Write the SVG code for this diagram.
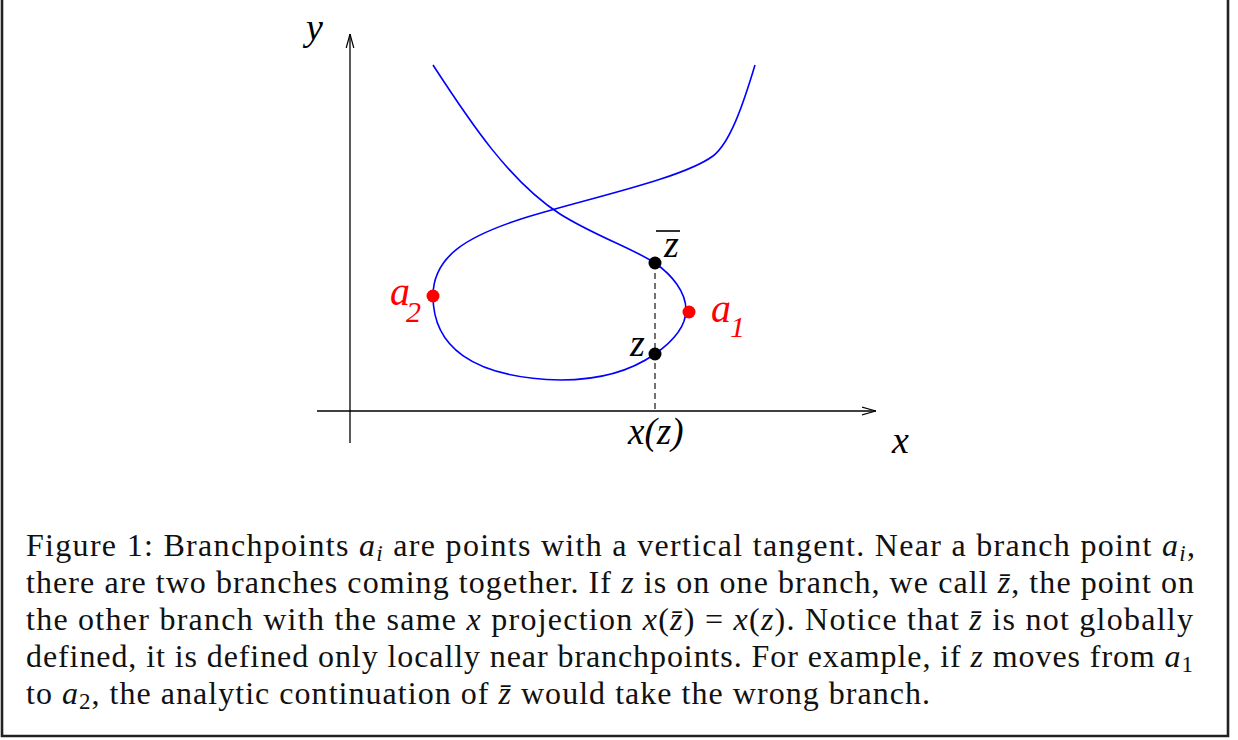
<svg xmlns="http://www.w3.org/2000/svg" width="1238" height="740" viewBox="0 0 1238 740">
<style>
.lbl{font-family:'Liberation Serif','DejaVu Serif',serif;font-style:italic;fill:#000;}
.red{fill:#ff0000;}
.cap{font-family:'Liberation Serif','DejaVu Serif',serif;font-size:32px;fill:#111;}
.m{font-style:italic;}
.axis{stroke:#000;stroke-width:1.3;fill:none;}
.curve{stroke:#0000ff;stroke-width:1.6;fill:none;}
.dot{fill:#000;}
.rdot{fill:#ff0000;}
</style>
<defs>
<marker id="arr" viewBox="0 0 14 10" refX="14" refY="5" markerWidth="14" markerHeight="10" markerUnits="userSpaceOnUse" orient="auto">
<path d="M0,1.2 L14,5 L0,8.8" fill="none" stroke="#000" stroke-width="1.2"/>
</marker>
</defs>
<rect x="0" y="0" width="1238" height="740" fill="#fff"/>
<path d="M2,0 V736 H1228 V0" fill="none" stroke="#222" stroke-width="2.6"/>

<g id="connectors">
<line id="x-axis" class="axis" x1="317" y1="411" x2="876" y2="411" marker-end="url(#arr)"/>
<line id="y-axis" class="axis" x1="350" y1="443" x2="350" y2="34" marker-end="url(#arr)"/>
<path id="curve" class="curve" d="M433,65 C470,122 510,182 560,214 C595,236 630,247 655,263 C672,275 686,292 686,310 C686,328 672,342 655,354 C635,368 605,380 561,380 C470,378 433,345 433,296 C433,255 470,236 518,220 C580,200 680,180 713,156 C730,143 743,105 755,65"/>
<line id="projection" x1="655" y1="263" x2="655" y2="411" stroke="#000" stroke-width="1.1" stroke-dasharray="6,4"/>
</g>

<g id="axis-labels">
<text class="lbl" x="306" y="40" font-size="38">y</text>
<text class="lbl" x="892" y="453" font-size="38">x</text>
<text class="lbl" x="628" y="444" font-size="37">x(z)</text>
</g>

<g id="node-zbar">
<circle class="dot" cx="655" cy="263" r="6.5"/>
<text class="lbl" x="664" y="257" font-size="38">z</text>
<line x1="656" y1="231" x2="680" y2="231" stroke="#000" stroke-width="1.6"/>
</g>
<g id="node-z">
<circle class="dot" cx="655" cy="354" r="6.5"/>
<text class="lbl" x="630" y="356" font-size="38">z</text>
</g>
<g id="node-a2">
<circle class="rdot" cx="433" cy="296" r="6.5"/>
<text class="lbl red" x="390" y="305" font-size="40">a</text>
<text class="lbl red" x="406" y="322" font-size="30">2</text>
</g>
<g id="node-a1">
<circle class="rdot" cx="689" cy="312" r="6.5"/>
<text class="lbl red" x="711" y="322" font-size="40">a</text>
<text class="lbl red" x="730" y="337" font-size="30">1</text>
</g>

<g id="caption">
<text class="cap" x="26" y="556" textLength="1169" lengthAdjust="spacing">Figure 1: Branchpoints <tspan class="m">a</tspan><tspan class="m" font-size="23" dy="5">i</tspan><tspan dy="-5"> are points with a vertical tangent. Near a branch point </tspan><tspan class="m">a</tspan><tspan class="m" font-size="23" dy="5">i</tspan><tspan dy="-5">,</tspan></text>
<text class="cap" x="26" y="593" textLength="1168" lengthAdjust="spacing">there are two branches coming together. If <tspan class="m">z</tspan> is on one branch, we call <tspan class="m">z&#x304;</tspan>, the point on</text>
<text class="cap" x="26" y="630" textLength="1167" lengthAdjust="spacing">the other branch with the same <tspan class="m">x</tspan> projection <tspan class="m">x</tspan>(<tspan class="m">z&#x304;</tspan>) = <tspan class="m">x</tspan>(<tspan class="m">z</tspan>). Notice that <tspan class="m">z&#x304;</tspan> is not globally</text>
<text class="cap" x="26" y="667" textLength="1167" lengthAdjust="spacing">defined, it is defined only locally near branchpoints. For example, if <tspan class="m">z</tspan> moves from <tspan class="m">a</tspan><tspan font-size="23" dy="5">1</tspan></text>
<text class="cap" x="26" y="704" textLength="904" lengthAdjust="spacing">to <tspan class="m">a</tspan><tspan font-size="23" dy="5">2</tspan><tspan dy="-5">, the analytic continuation of </tspan><tspan class="m">z&#x304;</tspan> would take the wrong branch.</text>
</g>
</svg>
